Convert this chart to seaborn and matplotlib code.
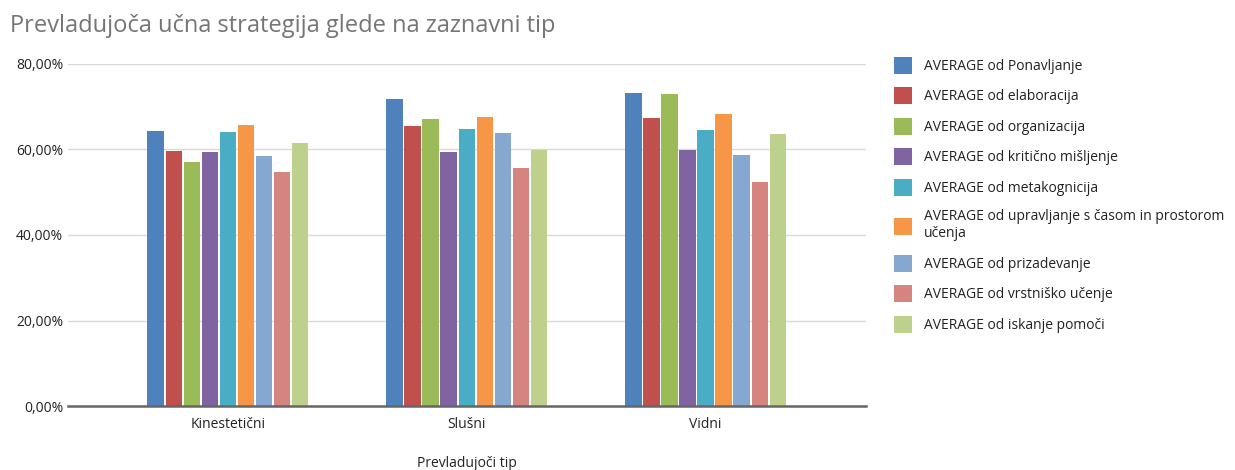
import seaborn as sns
import matplotlib.pyplot as plt
import pandas as pd
from matplotlib.ticker import FuncFormatter

# data (percent)
categories = ['Kinestetični', 'Slušni', 'Vidni']
series = [
    'AVERAGE od Ponavljanje',
    'AVERAGE od elaboracija',
    'AVERAGE od organizacija',
    'AVERAGE od kritično mišljenje',
    'AVERAGE od metakognicija',
    'AVERAGE od upravljanje s časom in prostorom\nučenja',
    'AVERAGE od prizadevanje',
    'AVERAGE od vrstniško učenje',
    'AVERAGE od iskanje pomoči',
]
ponavljanje = [64.4, 71.9, 73.2]
elaboracija = [59.7, 65.4, 67.4]
organizacija = [57.0, 67.1, 72.9]
kriticno = [59.3, 59.3, 59.9]
metakognicija = [64.1, 64.8, 64.5]
upravljanje = [65.8, 67.7, 68.4]
prizadevanje = [58.4, 63.9, 58.7]
vrstnisko = [54.8, 55.7, 52.5]
iskanje = [61.6, 59.8, 63.5]

colors = ['#4F81BD', '#C0504D', '#9BBB59', '#8064A2', '#4BACC6',
          '#F79646', '#86A8D0', '#D58480', '#BDD08C']

values = [ponavljanje, elaboracija, organizacija, kriticno, metakognicija,
          upravljanje, prizadevanje, vrstnisko, iskanje]
rows = []
for name, vals in zip(series, values):
    for cat, v in zip(categories, vals):
        rows.append({'tip': cat, 'serija': name, 'vrednost': v})
df = pd.DataFrame(rows)

sns.set_style("white")
plt.rcParams['font.family'] = ['Open Sans', 'DejaVu Sans']

fig = plt.figure(figsize=(12.35, 4.7), dpi=100)
ax = fig.add_axes([0.055, 0.136, 0.646, 0.728])

sns.barplot(data=df, x='tip', y='vrednost', hue='serija', hue_order=series,
            order=categories, palette=colors, width=0.68, gap=0.08,
            saturation=1, linewidth=0, ax=ax)

ax.set_ylim(0, 80)
ax.set_xlim(-0.67, 2.67)
ax.set_yticks([0, 20, 40, 60, 80])
ax.yaxis.set_major_formatter(FuncFormatter(lambda v, p: f'{v:.2f}%'.replace('.', ',')))
ax.grid(axis='y', color='#D9D9D9', linewidth=1)
ax.set_axisbelow(True)
for s in ['top', 'right', 'left']:
    ax.spines[s].set_visible(False)
ax.spines['bottom'].set_color('#666666')
ax.spines['bottom'].set_linewidth(1.8)
ax.tick_params(axis='both', length=0, labelsize=10, colors='#222222')
ax.tick_params(axis='x', pad=8)
ax.set_ylabel('')
ax.set_xlabel('Prevladujoči tip', fontsize=10, color='#222222', labelpad=17)

handles, labels = ax.get_legend_handles_labels()
ax.legend(handles, labels, loc='upper left', bbox_to_anchor=(1.02, 1.058),
          frameon=False, fontsize=10, labelspacing=0.97, handlelength=1.25,
          handleheight=1.5, handletextpad=0.9, labelcolor='#222222')

fig.text(0.008, 0.945, 'Prevladujoča učna strategija glede na zaznavni tip',
         fontsize=17, color='#757575', va='center')

fig.savefig('out.png', dpi=100)
